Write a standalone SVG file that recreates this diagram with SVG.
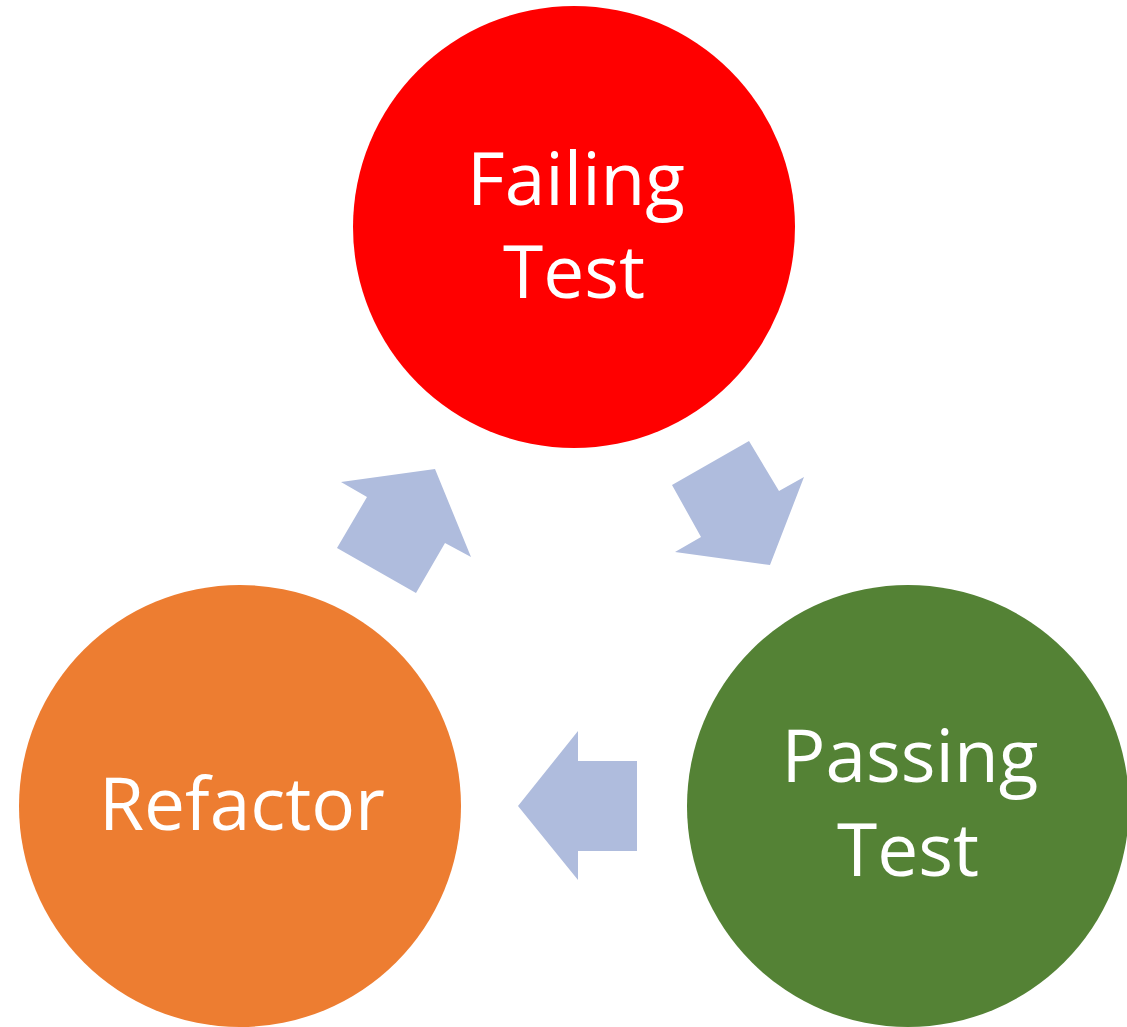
<svg xmlns="http://www.w3.org/2000/svg" width="1127" height="1027" viewBox="0 0 1127 1027">
<style>
.lbl{font-family:"Open Sans","Liberation Sans",sans-serif;font-size:73px;fill:#ffffff;text-anchor:middle}
.arr{fill:#AFBCDD}
</style>
<rect width="1127" height="1027" fill="#ffffff"/>
<g id="connectors">
<polygon class="arr" points="672,485 749,441 779,491 804,477 770,565 675,552 701,537"/>
<polygon class="arr" points="518,806 578,731 578,761 637,761 637,851 578,851 578,880"/>
<polygon class="arr" points="416,593 337,548 367,497 341,482 435,469 471,557 445,543"/>
</g>
<g id="failing">
<circle cx="574" cy="227" r="221" fill="#FF0000"/>
<text class="lbl" x="576" y="205">Failing</text>
<text class="lbl" x="574" y="298">Test</text>
</g>
<g id="passing">
<circle cx="908" cy="806" r="221" fill="#548235"/>
<text class="lbl" x="910" y="782">Passing</text>
<text class="lbl" x="908" y="876">Test</text>
</g>
<g id="refactor">
<circle cx="240" cy="806" r="221" fill="#ED7D31"/>
<text class="lbl" x="242" y="830">Refactor</text>
</g>
</svg>
